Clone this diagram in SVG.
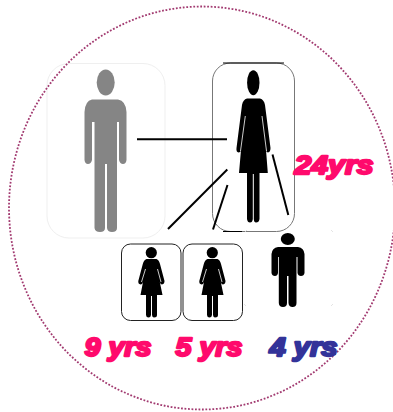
<svg xmlns="http://www.w3.org/2000/svg" width="393" height="412" viewBox="0 0 393 412">
<style>
.t{font-family:"Liberation Sans",Arial,sans-serif;font-weight:700;font-style:italic;font-size:26px;stroke-width:2.3px;stroke-linejoin:round}
.p{fill:#ff0a6c;stroke:#ff0a6c}
.b{fill:#333399;stroke:#333399}
.c{stroke:#000;stroke-width:2;fill:none}
.box{fill:#fff;stroke:#222;stroke-width:1}
</style>
<defs>
<g id="girl">
<ellipse cx="151.3" cy="252.7" rx="5.6" ry="5.6"/>
<path d="M146.5,259 H156.5 Q159,260 160,264 L164.5,281 Q164.5,284 162,284.5 Q160.5,284.5 159.8,282 L162.5,295 H157 V315 Q157,317.5 154,317.5 Q152.3,317.5 152,315 V296 H151 V315 Q150.7,317.5 148.5,317.5 Q146.2,317.5 146,315 V295 H140.5 L143,282 Q142.3,284.5 140.5,284.5 Q138,284 138.3,281 L142.8,264 Q143.8,260 146.5,259Z"/>
<path d="M145.5,269 L141.5,282 M157.5,269 L161,282" stroke="#fff" stroke-width="0.8" fill="none"/>
</g>
</defs>
<g id="father">
<rect x="47" y="63.5" width="118" height="174.5" rx="22" fill="none" stroke="#efefef" stroke-width="1"/>
<ellipse cx="105.7" cy="82.5" rx="9" ry="13" fill="#858585"/>
<path fill="#858585" d="M92,99.5 H118 Q126,101 126.5,112 V160 Q126,164 123,164 Q120,164 119,160 V122 H117 V228 Q117,232 112,232 Q107.5,232 107,228 V164 H105 V228 Q105,232 100,232 Q95,232 94.5,228 V122 H92 V160 Q91,164 88,164 Q85,164 84.5,160 V112 Q85,101 92,99.5Z"/>
</g>
<ellipse id="frame" cx="202" cy="208" rx="193" ry="201.5" fill="none" stroke="#a23a70" stroke-width="1.8" stroke-dasharray="1.8 1.7"/>
<g id="mother">
<rect x="212.5" y="63" width="82" height="168.5" rx="18" fill="#fff" stroke="#777" stroke-width="1"/>
<path d="M223,63 H284 M223,231.5 H242" stroke="#000" stroke-width="1.2" fill="none"/>
<ellipse cx="253.3" cy="82.7" rx="6.2" ry="12.5"/>
<path d="M247,98.5 H260 Q264,99.5 265,105 L270.5,148 Q270.5,152 268,152.5 Q266.5,152.5 266,150 L267.8,173 H259.5 V219 Q259,222.5 256,222.5 Q254,222.5 253.8,219 V174 H252.8 V219 Q252.5,222.5 250,222.5 Q247.5,222.5 247,219 V173 H239 L241,150 Q240.5,152.5 238.5,152.5 Q236,152 236.5,148 L242,105 Q243,99.5 247,98.5Z"/>
<path d="M245.3,116 L240.5,151 M262,116 L266.5,151" stroke="#fff" stroke-width="0.8" fill="none"/>
</g>
<g id="daughter9">
<rect class="box" x="121.5" y="244" width="59.5" height="76.5" rx="9"/>
<use href="#girl"/>
</g>
<g id="daughter5">
<rect class="box" x="183" y="244" width="59.5" height="76.5" rx="9"/>
<use href="#girl" x="61"/>
</g>
<g id="son">
<path d="M245,232 L247,230 M331,230 L333,232 M244,304 L246,306 M333,304 L331,306" stroke="#ddd" stroke-width="0.8" fill="none"/>
<ellipse cx="287.8" cy="239" rx="7" ry="6"/>
<path d="M278,247 H298 Q304,248 304.5,254 V273 Q304,276 301,276 Q298,276 297.5,273 V257 L296.5,257 V303 Q296.5,307 292.5,307 Q288.8,307 288.5,303 V276 H287 V303 Q287,307 283,307 Q279,307 278.8,303 V257 H278 V273 Q277.5,276 275,276 Q272,276 271.5,273 V254 Q272,248 278,247Z"/>
</g>
<g id="connectors">
<path class="c" d="M137,139.3 H227"/>
<path class="c" d="M227.3,169.5 L168,229"/>
<path class="c" d="M227.5,185 L213,229.5"/>
<path class="c" d="M272.5,154.5 L288.3,215"/>
</g>
<g id="labels">
<text class="t p" x="294.5" y="173.5" textLength="79" lengthAdjust="spacingAndGlyphs">24yrs</text>
<text class="t p" x="84.5" y="355.5" textLength="67" lengthAdjust="spacingAndGlyphs">9 yrs</text>
<text class="t p" x="175.5" y="355.5" textLength="67" lengthAdjust="spacingAndGlyphs">5 yrs</text>
<text class="t b" x="269.5" y="355.5" textLength="68" lengthAdjust="spacingAndGlyphs">4 yrs</text>
</g>
</svg>
